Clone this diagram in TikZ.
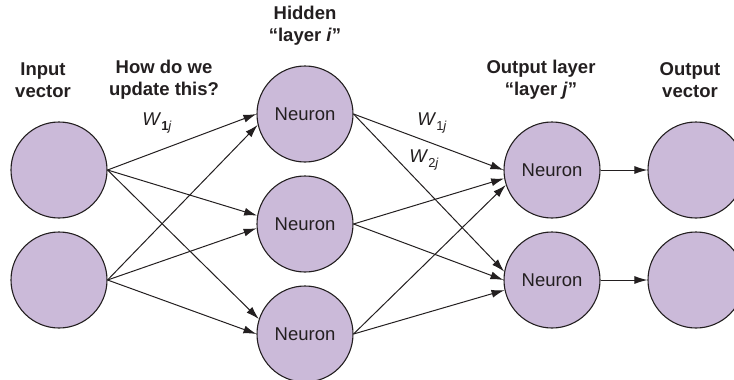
\documentclass[tikz,border=0pt]{standalone}
\usepackage{fontspec}
\setmainfont{Liberation Sans}
\usetikzlibrary{arrows.meta}
\definecolor{neufill}{RGB}{203,186,217}
\definecolor{ink}{RGB}{35,31,32}
\newcommand{\wlab}[2]{\textit{W}\raisebox{-5pt}{\fontsize{13}{13}\selectfont #1\textit{#2}}}
\tikzset{
  neuron/.style={circle, draw=ink, line width=1.1pt, fill=neufill, minimum size=96pt, inner sep=0pt,
    font=\fontsize{18.5}{22}\selectfont, text=ink},
  head/.style={font=\fontsize{18.5}{22}\selectfont\bfseries, align=center, text=ink},
  conn/.style={draw=ink, line width=1pt, -{Latex[length=13pt,width=8pt]}},
  wl/.style={font=\fontsize{18.5}{22}\selectfont, text=ink}
}
\begin{document}
\begin{tikzpicture}[x=1pt,y=-1pt]
\useasboundingbox (0,0) rectangle (734,380);
% headings
\node[head] (hin) at (43,80) {Input\\vector};
\node[head] (hq) at (164,80) {How do we\\update this?};
\node[head] (hh) at (305,26) {Hidden\\“layer \textit{i}”};
\node[head] (ho) at (541,80) {Output layer\\“layer \textit{j}”};
\node[head] (hv) at (690,80) {Output\\vector};
% neurons
\node[neuron] (in1) at (59,170) {};
\node[neuron] (in2) at (59,280) {};
\node[neuron] (h1) at (305,114) {Neuron};
\node[neuron] (h2) at (305,224) {Neuron};
\node[neuron] (h3) at (305,334) {Neuron};
\node[neuron] (o1) at (552,170) {Neuron};
\node[neuron] (o2) at (552,280) {Neuron};
\node[neuron] (v1) at (696,170) {};
\node[neuron] (v2) at (696,280) {};
% input -> hidden
\draw[conn] (in1.east) -- (h1.180);
\draw[conn] (in1.east) -- (h2.170);
\draw[conn] (in1.east) -- (h3.162);
\draw[conn] (in2.east) -- (h1.193);
\draw[conn] (in2.east) -- (h2.185);
\draw[conn] (in2.east) -- (h3.180);
% hidden -> output
\draw[conn] (h1.east) -- (o1.180);
\draw[conn] (h1.east) -- (o2.170);
\draw[conn] (h2.east) -- (o1.190);
\draw[conn] (h2.east) -- (o2.180);
\draw[conn] (h3.east) -- (o1.198);
\draw[conn] (h3.east) -- (o2.192);
% output -> vector
\draw[conn] (o1.east) -- (v1.west);
\draw[conn] (o2.east) -- (v2.west);
% weight labels
\node[wl] (w1a) at (157,123) {\wlab{\textbf{1}}{j}};
\node[wl] (w1b) at (432,123) {\wlab{1}{j}};
\node[wl] (w2b) at (424,160) {\wlab{2}{j}};
\end{tikzpicture}
\end{document}
